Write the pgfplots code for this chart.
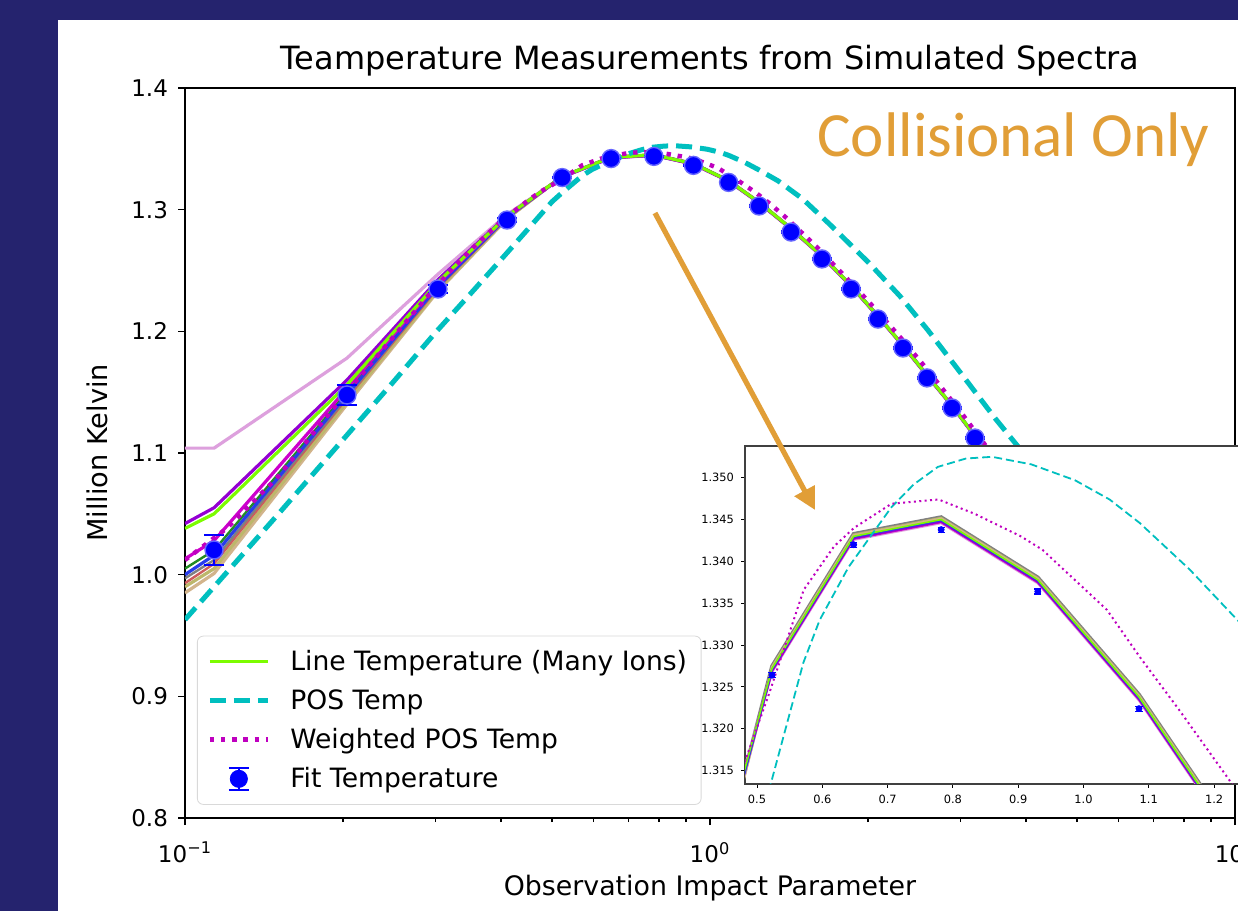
\documentclass[border=0pt]{standalone}
\usepackage{fontspec}
\setmainfont{DejaVu Sans}
\newfontfamily\carlito{Carlito}
\usepackage{pgfplots}
\usepackage{pgfplotstable}
\pgfplotsset{compat=1.18}
\usetikzlibrary{arrows.meta}

\definecolor{slidebg}{RGB}{37,35,110}
\definecolor{callout}{RGB}{225,158,55}
\definecolor{lgreen}{RGB}{124,252,0}
\definecolor{mcyan}{RGB}{0,191,191}
\definecolor{mmag}{RGB}{191,0,191}
\definecolor{dviolet}{RGB}{148,0,211}
\definecolor{smag}{RGB}{204,0,204}
\definecolor{rblue}{RGB}{40,60,235}
\definecolor{fgreen}{RGB}{34,139,34}
\definecolor{ired}{RGB}{205,92,92}
\definecolor{ltan}{RGB}{210,180,140}
\definecolor{lkhaki}{RGB}{189,183,107}
\definecolor{lgray}{RGB}{128,128,128}
\definecolor{lplum}{RGB}{221,160,221}

% line temperatures, one column per ion
\pgfplotstableread{
x      G      P      M      B      F      R      T      K      Y      L
0.1    1.038  1.042  1.013  1.000  1.005  0.993  0.985  0.990  0.997  1.104
0.1136 1.050  1.055  1.028  1.016  1.020  1.009  1.001  1.005  1.012  1.104
0.2035 1.156  1.160  1.153  1.148  1.150  1.145  1.140  1.142  1.146  1.178
0.3033 1.2405 1.2425 1.2395 1.2370 1.2380 1.2355 1.2330 1.2340 1.2365 1.2470
0.4107 1.2948 1.2950 1.2945 1.2938 1.2940 1.2932 1.2925 1.2928 1.2935 1.2960
0.523  1.3272 1.3270 1.3269 1.3271 1.3273 1.3272 1.3273 1.3274 1.3275 1.3268
0.648  1.3430 1.3428 1.3427 1.3429 1.3431 1.3430 1.3431 1.3432 1.3433 1.3426
0.782  1.3450 1.3448 1.3447 1.3449 1.3451 1.3450 1.3451 1.3452 1.3453 1.3446
0.930  1.3378 1.3376 1.3375 1.3377 1.3379 1.3378 1.3379 1.3380 1.3381 1.3374
1.085  1.3238 1.3236 1.3235 1.3237 1.3239 1.3238 1.3239 1.3240 1.3241 1.3234
1.24   1.3060 1.3058 1.3057 1.3059 1.3061 1.3060 1.3061 1.3062 1.3063 1.3056
1.427  1.2845 1.2843 1.2842 1.2844 1.2846 1.2845 1.2846 1.2847 1.2848 1.2841
1.634  1.2620 1.2618 1.2617 1.2619 1.2621 1.2620 1.2621 1.2622 1.2623 1.2616
1.857  1.2375 1.2373 1.2372 1.2374 1.2376 1.2375 1.2376 1.2377 1.2378 1.2371
2.089  1.2125 1.2123 1.2122 1.2124 1.2126 1.2125 1.2126 1.2127 1.2128 1.2121
2.331  1.1885 1.1883 1.1882 1.1884 1.1886 1.1885 1.1886 1.1887 1.1888 1.1881
2.590  1.1640 1.1638 1.1637 1.1639 1.1641 1.1640 1.1641 1.1642 1.1643 1.1636
2.891  1.1390 1.1388 1.1387 1.1389 1.1391 1.1390 1.1391 1.1392 1.1393 1.1386
3.197  1.1140 1.1138 1.1137 1.1139 1.1141 1.1140 1.1141 1.1142 1.1143 1.1136
3.6    1.0800 1.0798 1.0797 1.0799 1.0801 1.0800 1.0801 1.0802 1.0803 1.0796
4.0    1.0480 1.0478 1.0477 1.0479 1.0481 1.0480 1.0481 1.0482 1.0483 1.0476
5.0    0.9800 0.9798 0.9797 0.9799 0.9801 0.9800 0.9801 0.9802 0.9803 0.9796
}\linetemps

% POS temperature
\pgfplotstableread{
x     y
0.1   0.963
0.15  1.049
0.2   1.111
0.25  1.159
0.3   1.199
0.35  1.231
0.4   1.259
0.45  1.284
0.5   1.3065
0.521 1.3134
0.571 1.3279
0.596 1.3330
0.64  1.3393
0.706 1.3465
0.74  1.3492
0.777 1.3513
0.82  1.3523
0.86  1.3525
0.92  1.3516
0.987 1.3497
1.04  1.3474
1.086 1.3446
1.163 1.3390
1.238 1.3328
1.35  1.3235
1.5   1.3090
1.7   1.2870
2.0   1.2570
2.3   1.2290
2.6   1.2010
3.0   1.1660
3.5   1.1280
3.9   1.1030
4.5   1.0650
}\posT

% weighted POS temperature
\pgfplotstableread{
x      y
0.1    1.012
0.12   1.038
0.15   1.080
0.2    1.1465
0.25   1.196
0.3    1.2365
0.35   1.267
0.4    1.2905
0.45   1.3075
0.475  1.3147
0.519  1.3243
0.5715 1.3366
0.618  1.3418
0.6485 1.3440
0.706  1.3469
0.778  1.3474
0.833  1.3457
0.904  1.3430
0.937  1.3414
0.981  1.3382
1.036  1.3342
1.086  1.3286
1.146  1.3223
1.223  1.3139
1.3    1.3050
1.4    1.2930
1.6    1.2690
1.8    1.2460
2.0    1.2250
2.3    1.1955
2.6    1.1680
3.0    1.1340
3.5    1.0950
4.0    1.0600
5.0    0.9950
}\wposT

% fitted temperatures
\pgfplotstableread{
x      y      e
0.1136 1.0203 0.0120
0.2035 1.1477 0.0080
0.3033 1.2348 0.0030
0.4107 1.2915 0.0020
0.523  1.3264 0.0003
0.648  1.3420 0.0003
0.782  1.3438 0.0003
0.930  1.3364 0.0003
1.085  1.3224 0.0003
1.240  1.3030 0.0010
1.427  1.2816 0.0010
1.634  1.2595 0.0010
1.857  1.2348 0.0010
2.089  1.2101 0.0010
2.331  1.1863 0.0010
2.590  1.1617 0.0010
2.891  1.1370 0.0010
3.197  1.1123 0.0010
3.6    1.0780 0.0010
4.0    1.0460 0.0010
}\fits

\begin{document}
\begin{tikzpicture}
\path[use as bounding box] (0,0) rectangle (619pt,455.5pt);
\clip (0,0) rectangle (619pt,455.5pt);
\fill[slidebg] (0,0) rectangle (619pt,455.5pt);
\fill[white] (29pt,0) rectangle (619pt,445.5pt);

\begin{axis}[
  at={(92.5pt,46.5pt)}, anchor=south west,
  scale only axis, width=525pt, height=365pt,
  xmode=log, xmin=0.1, xmax=10, ymin=0.8, ymax=1.4,
  xtick={0.1,1,10},
  xticklabels={10\textsuperscript{−1},10\textsuperscript{0},10\textsuperscript{1}},
  xticklabel style={yshift=-5pt},
  minor xtick={0.2,0.3,0.4,0.5,0.6,0.7,0.8,0.9,2,3,4,5,6,7,8,9},
  ytick={0.8,0.9,1.0,1.1,1.2,1.3,1.4},
  yticklabel style={xshift=-1.5pt, /pgf/number format/.cd, fixed, fixed zerofill, precision=1, assume math mode=true},
  tick label style={font=\fontsize{11.5}{13}\selectfont},
  tick pos=left, tick align=outside,
  major tick length=3.5pt, minor tick length=2pt,
  every tick/.style={black, line width=0.7pt},
  axis line style={line width=0.9pt},
  title={Teamperature Measurements from Simulated Spectra},
  title style={font=\fontsize{16}{19}\selectfont, at={(0.5,1)}, anchor=base, yshift=3.5pt},
  xlabel={Observation Impact Parameter},
  xlabel style={font=\fontsize{13.4}{16}\selectfont, at={(axis description cs:0.5,-0.1068)}, anchor=base},
  ylabel={Million Kelvin},
  ylabel style={font=\fontsize{13.6}{16}\selectfont, at={(axis description cs:-0.0838,0.5)}, anchor=center},
  legend cell align=left,
  legend image code/.code={\draw[#1] (0pt,0pt) -- (29pt,0pt);},
  legend style={at={(0.0114,0.018)}, anchor=south west, draw=black!15, rounded corners=3pt,
    fill=white, font=\fontsize{13.3}{16}\selectfont, row sep=4pt, inner xsep=5pt, inner ysep=5pt,
    /tikz/every odd column/.append style={column sep=8pt}},
]
\addlegendimage{lgreen, line width=1.6pt}
\addlegendentry{Line Temperature (Many Ions)}
\addlegendimage{mcyan, line width=2.5pt, dash pattern=on 8pt off 4pt}
\addlegendentry{POS Temp}
\addlegendimage{mmag, line width=2.2pt, dash pattern=on 2.2pt off 3.4pt}
\addlegendentry{Weighted POS Temp}
\addlegendimage{legend image code/.code={
  \draw[blue, line width=1pt] (14.5pt,-5.5pt) -- (14.5pt,5.5pt)
    (9.5pt,-5.5pt) -- (19.5pt,-5.5pt) (9.5pt,5.5pt) -- (19.5pt,5.5pt);
  \fill[blue] (14.5pt,0pt) circle (4.3pt);}}
\addlegendentry{Fit Temperature}

\addplot[lplum, line width=1.6pt, forget plot] table[y=L]{\linetemps};
\addplot[ltan, line width=1.6pt, forget plot] table[y=T]{\linetemps};
\addplot[lkhaki, line width=1.6pt, forget plot] table[y=K]{\linetemps};
\addplot[ired, line width=1.2pt, forget plot] table[y=R]{\linetemps};
\addplot[lgray, line width=1.2pt, forget plot] table[y=Y]{\linetemps};
\addplot[fgreen, line width=1.2pt, forget plot] table[y=F]{\linetemps};
\addplot[rblue, line width=1.6pt, forget plot] table[y=B]{\linetemps};
\addplot[smag, line width=1.6pt, forget plot] table[y=M]{\linetemps};
\addplot[dviolet, line width=1.6pt, forget plot] table[y=P]{\linetemps};
\addplot[lgreen, line width=1.6pt, forget plot] table[y=G]{\linetemps};
\addplot[mcyan, line width=2.5pt, dash pattern=on 8pt off 4pt, forget plot] table{\posT};
\addplot[blue, only marks, mark=*, mark size=4.5pt, mark options={draw=blue!60!white, line width=0.7pt}, forget plot,
  error bars/.cd, y dir=both, y explicit,
  error bar style={line width=1pt, blue},
  error mark options={rotate=90, line width=1pt, mark size=5pt, blue}]
  table[x=x, y=y, y error=e]{\fits};
\addplot[mmag, line width=2.2pt, dash pattern=on 2.2pt off 3.4pt, forget plot] table{\wposT};
\end{axis}

\node[anchor=base west, inner sep=0pt, text=callout, font=\carlito\fontsize{31.5}{36}\selectfont]
  at (408.5pt,377pt) {Collisional Only};

\begin{axis}[
  at={(372.5pt,63.5pt)}, anchor=south west,
  scale only axis, width=247.6pt, height=169pt,
  xmin=0.4816, xmax=1.24, ymin=1.3134, ymax=1.3538,
  axis background/.style={fill=white},
  axis line style={black!75, line width=0.6pt},
  xtick={0.5,0.6,0.7,0.8,0.9,1.0,1.1,1.2},
  ytick={1.315,1.320,1.325,1.330,1.335,1.340,1.345,1.350},
  xticklabel style={/pgf/number format/.cd, fixed, fixed zerofill, precision=1, assume math mode=true},
  yticklabel style={/pgf/number format/.cd, fixed, fixed zerofill, precision=3, assume math mode=true},
  scaled y ticks=false,
  tick label style={font=\fontsize{5.7}{7}\selectfont},
  tick pos=left, tick align=outside, major tick length=2pt,
  every tick/.style={black, line width=0.5pt},
]
\addplot[lgray, line width=1.8pt] table[y=Y]{\linetemps};
\addplot[lplum, line width=1.3pt] table[y=L]{\linetemps};
\addplot[lkhaki, line width=1.1pt] table[y=K]{\linetemps};
\addplot[ltan, line width=1.1pt] table[y=T]{\linetemps};
\addplot[smag, line width=1.1pt] table[y=M]{\linetemps};
\addplot[dviolet, line width=1.2pt] table[y=P]{\linetemps};
\addplot[rblue, line width=0.9pt] table[y=B]{\linetemps};
\addplot[lgreen, line width=0.8pt] table[y=G]{\linetemps};
\addplot[mcyan, line width=0.9pt, dash pattern=on 4pt off 2pt] table{\posT};
\addplot[mmag, line width=1pt, dash pattern=on 1pt off 1.7pt] table{\wposT};
\addplot[blue, only marks, mark=*, mark size=1.5pt,
  error bars/.cd, y dir=both, y explicit,
  error bar style={line width=0.6pt, blue},
  error mark options={rotate=90, line width=0.6pt, mark size=1.8pt, blue}]
  table[x=x, y=y, y error=e]{\fits};
\end{axis}

\draw[callout, line width=2.6pt, -{Triangle[length=11pt, width=11pt]}]
  (327.5pt,349pt) -- (407.5pt,200.5pt);
\end{tikzpicture}
\end{document}
